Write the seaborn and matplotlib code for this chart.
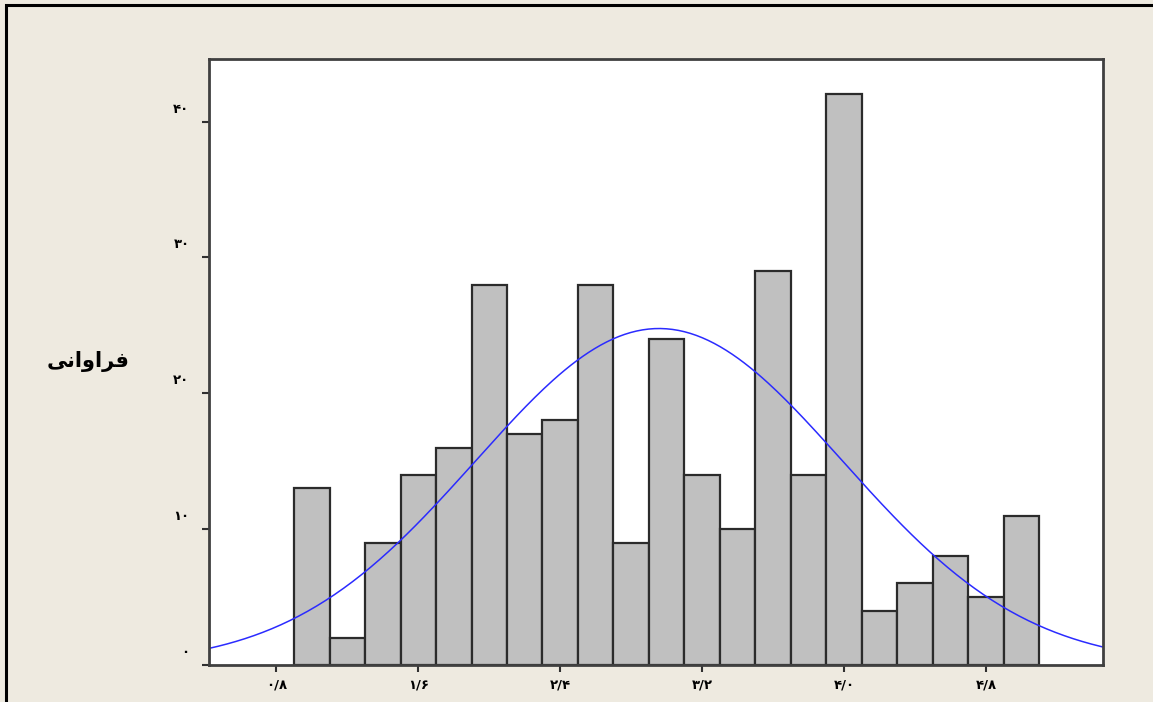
import numpy as np
import matplotlib
matplotlib.use("Agg")
import matplotlib.pyplot as plt
import matplotlib.transforms as mtransforms
from matplotlib.patches import Rectangle
import seaborn as sns

# bin centres (width 0.2) and frequencies
bin_centers = [1.0, 1.2, 1.4, 1.6, 1.8, 2.0, 2.2, 2.4, 2.6, 2.8, 3.0,
               3.2, 3.4, 3.6, 3.8, 4.0, 4.2, 4.4, 4.6, 4.8, 5.0]
counts = [13, 2, 9, 14, 16, 28, 17, 18, 28, 9, 24,
          14, 10, 29, 14, 42, 4, 6, 8, 5, 11]
bin_width = 0.2

x_ticks = [0.8, 1.6, 2.4, 3.2, 4.0, 4.8]
x_tick_labels = ["۰/۸", "۱/۶", "۲/۴", "۳/۲", "۴/۰", "۴/۸"]
y_ticks = [0, 10, 20, 30, 40]
y_tick_labels = ["۰", "۱۰", "۲۰", "۳۰", "۴۰"]
# "فراوانی" in presentation forms, visual order (matplotlib does no shaping)
y_title = "\uFEF0\uFEE7\uFE8D\uFEED\uFE8D\uFEAE\uFED3"

bg = "#EEEAE0"
sns.set_style("white")
plt.rcParams["font.family"] = ["DejaVu Sans"]

fig = plt.figure(figsize=(11.53, 7.02), dpi=100, facecolor=bg)
ax = fig.add_axes([209 / 1153, 37 / 702, 894 / 1153, 606 / 702])
ax.set_facecolor("white")

sns.histplot(x=bin_centers, weights=counts, binwidth=bin_width,
             binrange=(0.9, 5.1), color="#C0C0C0", edgecolor="#2b2b2b",
             linewidth=1.6, alpha=1, ax=ax)

# fitted normal curve from the binned data
c = np.array(counts, dtype=float)
xc = np.array(bin_centers)
n = c.sum()
mu = (c * xc).sum() / n
sd = np.sqrt((c * (xc - mu) ** 2).sum() / n)
xs = np.linspace(0.42, 5.46, 300)
ys = n * bin_width / (sd * np.sqrt(2 * np.pi)) * np.exp(-0.5 * ((xs - mu) / sd) ** 2)
sns.lineplot(x=xs, y=ys, color="#2B2BFF", linewidth=1.1, ax=ax)

ax.set_xlim(0.42, 5.46)
ax.set_ylim(0, 44.6)
ax.set_xticks(x_ticks)
ax.set_xticklabels(x_tick_labels, fontsize=9.5, fontweight="bold", color="black")
ax.set_yticks(y_ticks)
ax.set_yticklabels(y_tick_labels, fontsize=9.5, fontweight="bold", color="black")
ax.tick_params(axis="both", direction="out", length=5, width=1.5,
               color="#303030", left=True, bottom=True)
ax.tick_params(axis="y", pad=9)
ax.tick_params(axis="x", pad=5)
ax.set_xlabel("")
ax.set_ylabel("")
for s in ax.spines.values():
    s.set_color("#404040")
    s.set_linewidth(2)

# y labels sit a little above their ticks
shift = mtransforms.ScaledTranslation(0, 10 / 72, fig.dpi_scale_trans)
for lab in ax.get_yticklabels():
    lab.set_transform(lab.get_transform() + shift)

fig.text(88 / 1153, 1 - 362 / 702, y_title, fontsize=15, fontweight="bold",
         color="black", ha="center", va="center")

# window frame on the left and top
fig.patches.append(Rectangle((6 / 1153, -0.1), 1.2, 1 - 5 / 702 + 0.1,
                             transform=fig.transFigure, fill=False,
                             edgecolor="black", linewidth=2.2))

fig.savefig("out.png", dpi=100, facecolor=bg)
